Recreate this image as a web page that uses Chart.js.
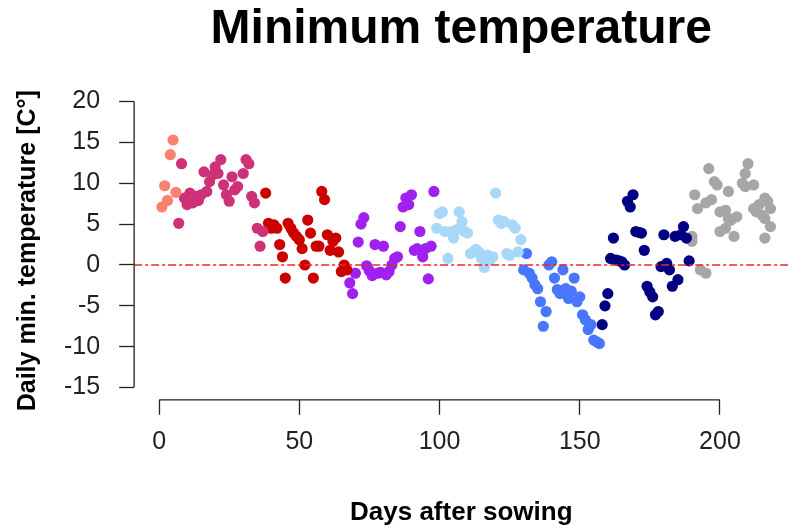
<!DOCTYPE html>
<html>
<head>
<meta charset="utf-8">
<script src="https://cdn.jsdelivr.net/npm/chart.js@4.4.1/dist/chart.umd.min.js"></script>
<style>
  html, body { margin: 0; padding: 0; background: #fff; }
  .chartBox { width: 794px; height: 528px; }
</style>
</head>
<body>
<div class="chartBox"><canvas id="tempChart"></canvas></div>
<script>
// tick labels
const xTicks = [0, 50, 100, 150, 200];
const yTicks = [-15, -10, -5, 0, 5, 10, 15, 20];

// one colour per month after sowing
const salmonDays = [1, 2, 3, 4, 5, 6];
const salmonTemp = [7.1, 9.7, 7.9, 13.5, 15.3, 8.9];

const violetDays = [7, 8, 9, 10, 11, 12, 13, 14, 15, 16, 17, 18, 19, 20, 21, 22, 23, 24, 25, 26, 27, 28, 30, 31, 32, 33, 34, 35, 36, 37];
const violetTemp = [5.1, 12.4, 8.2, 7.4, 8.8, 7.6, 8.4, 7.9, 8.6, 11.4, 9.0, 10.2, 11.0, 12.0, 11.2, 12.9, 9.8, 8.6, 7.8, 10.8, 9.2, 9.6, 11.2, 12.9, 12.4, 8.4, 7.6, 4.5, 2.3, 4.1];

const redDays = [38, 39, 40, 41, 42, 43, 44, 45, 46, 47, 48, 49, 50, 51, 52, 53, 54, 55, 56, 57, 58, 59, 60, 61, 62, 63, 64, 65, 66, 67];
const redTemp = [8.8, 5.1, 4.5, 4.9, 4.5, 2.5, 1.0, -1.6, 5.1, 4.5, 3.9, 3.5, 3.1, 2.0, 0.0, 5.5, 3.9, -1.6, 2.3, 2.3, 9.0, 8.0, 3.7, 1.8, 2.9, 3.3, 1.6, -0.8, 0.0, -0.6];

const purpleDays = [68, 69, 70, 71, 72, 73, 74, 75, 76, 77, 78, 79, 80, 81, 82, 83, 84, 85, 86, 87, 88, 89, 90, 91, 92, 93, 94, 95, 96, 97, 98];
const purpleTemp = [-2.2, -3.5, -1.0, 2.8, 5.0, 5.8, -0.1, -0.7, -1.3, 2.5, -1.0, -0.9, 2.3, -1.2, -0.8, 0.0, 0.8, 1.0, 4.7, 7.1, 8.2, 7.4, 8.6, 1.8, 2.0, 4.1, 1.0, 2.0, -1.7, 2.3, 9.0];

const skyDays = [99, 100, 101, 102, 103, 104, 105, 106, 107, 108, 109, 110, 111, 112, 113, 114, 115, 116, 117, 118, 119, 120, 121, 122, 123, 124, 125, 126, 127, 128, 129];
const skyTemp = [4.5, 6.3, 6.5, 4.1, 0.8, 4.1, 3.3, 4.3, 6.5, 5.3, 4.1, 3.9, 1.4, 1.6, 1.9, 1.6, 0.8, -0.3, 1.2, 0.6, 1.0, 8.8, 5.5, 5.1, 5.3, 1.4, 1.2, 4.9, 4.5, 1.6, 3.1];

const blueDays = [130, 131, 132, 133, 134, 135, 136, 137, 138, 139, 140, 141, 142, 143, 144, 145, 146, 147, 148, 149, 150, 151, 152, 153, 154, 155, 156, 157];
const blueTemp = [-0.6, 1.4, -1.0, -1.6, -2.4, -2.9, -4.5, -7.5, -5.7, 0.0, 0.4, -1.6, -3.0, -3.5, -0.6, -2.9, -4.1, -3.2, -1.6, -4.5, -3.9, -6.1, -6.7, -7.9, -7.3, -9.2, -9.4, -9.6];

const navyDays = [158, 159, 160, 161, 162, 163, 164, 165, 166, 167, 168, 169, 170, 171, 172, 173, 174, 175, 176, 177, 178, 179, 180, 181, 182, 183, 184, 185, 186, 187, 188, 189];
const navyTemp = [-7.3, -5.0, -3.5, 0.8, 3.3, 0.6, 0.5, 0.4, 0.0, 7.8, 7.1, 8.6, 4.1, 4.0, 3.9, 1.8, -2.6, -3.3, -3.9, -6.1, -5.7, -0.2, 3.7, 0.2, -0.6, -2.6, 3.5, -1.8, 3.7, 4.7, 3.3, 0.5];

const grayDays = [190, 190, 191, 192, 193, 195, 195, 196, 197, 198, 199, 200, 200, 202, 202, 203, 203, 204, 205, 206, 208, 209, 209, 210, 212, 212, 213, 214, 215, 216, 216, 216, 217, 218, 218];
const grayTemp = [3.5, 2.9, 8.6, 6.9, -0.6, 7.6, -1.0, 11.8, 8.0, 10.2, 9.8, 6.5, 4.1, 4.5, 6.7, 5.7, 9.0, 5.5, 3.5, 5.9, 10.0, 9.6, 11.2, 12.4, 9.8, 6.9, 6.5, 7.4, 6.1, 8.2, 3.3, 5.7, 7.8, 4.7, 6.9];

const xMin = -8.9;
const xMax = 224.4;

const groups = [
  [salmonDays, salmonTemp, "#FA8072"],
  [violetDays, violetTemp, "#CD3278"],
  [redDays, redTemp, "#CD0000"],
  [purpleDays, purpleTemp, "#A020F0"],
  [skyDays, skyTemp, "#A8D8F8"],
  [blueDays, blueTemp, "#4876FF"],
  [navyDays, navyTemp, "#000080"],
  [grayDays, grayTemp, "#A6A6A6"],
];

const fontFamily = "'Liberation Sans', Arial, sans-serif";

const toPoints = (days, temps) => days.map((d, i) => ({ x: d, y: temps[i] }));

const datasets = groups.map(([days, temps, color]) => ({
  type: "scatter",
  data: toPoints(days, temps),
  backgroundColor: color,
  borderColor: color,
  borderWidth: 0,
  pointRadius: 5.6,
  pointHoverRadius: 5.6,
  order: 1,
}));

// dot-dash zero line, drawn over the points
datasets.push({
  type: "line",
  data: [{ x: xMin, y: 0 }, { x: xMax, y: 0 }],
  borderColor: "rgb(232, 40, 40)",
  borderWidth: 1.6,
  borderDash: [8, 3, 3, 3],
  pointRadius: 0,
  order: 0,
});

// R style axes: the line only runs from first to last tick
const rAxes = {
  id: "rAxes",
  afterDraw(chart) {
    const { ctx, chartArea, scales } = chart;
    ctx.save();
    ctx.strokeStyle = "#222";
    ctx.lineWidth = 1.3;
    ctx.beginPath();
    ctx.moveTo(scales.x.getPixelForValue(xTicks[0]), chartArea.bottom);
    ctx.lineTo(scales.x.getPixelForValue(xTicks[xTicks.length - 1]), chartArea.bottom);
    ctx.moveTo(chartArea.left, scales.y.getPixelForValue(yTicks[0]));
    ctx.lineTo(chartArea.left, scales.y.getPixelForValue(yTicks[yTicks.length - 1]));
    ctx.stroke();
    ctx.restore();
  },
};

const tickGrid = {
  drawOnChartArea: false,
  drawTicks: true,
  tickLength: 15,
  tickColor: "#222",
  tickWidth: 1.3,
};

new Chart(document.getElementById("tempChart"), {
  type: "scatter",
  data: { datasets },
  options: {
    responsive: true,
    maintainAspectRatio: false,
    animation: false,
    layout: { padding: { left: 0, right: 0, top: 0, bottom: 0 } },
    plugins: {
      legend: { display: false },
      tooltip: { enabled: false },
      title: {
        display: true,
        fullSize: false,
        text: "Minimum temperature",
        color: "#000",
        font: { family: fontFamily, size: 48, weight: "bold", lineHeight: 1.2 },
        padding: { top: 1, bottom: 43 },
      },
    },
    scales: {
      x: {
        type: "linear",
        min: xMin,
        max: xMax,
        afterBuildTicks: (scale) => {
          scale.ticks = xTicks.map((v) => ({ value: v }));
        },
        ticks: {
          color: "#222",
          padding: 12,
          maxRotation: 0,
          font: { family: fontFamily, size: 25, lineHeight: 1.2 },
        },
        grid: tickGrid,
        border: { display: false },
        title: {
          display: true,
          text: "Days after sowing",
          color: "#000",
          font: { family: fontFamily, size: 26, weight: "bold", lineHeight: 1.2 },
          padding: { top: 28, bottom: 0 },
        },
      },
      y: {
        min: -16.5,
        max: 20,
        afterBuildTicks: (scale) => {
          scale.ticks = yTicks.map((v) => ({ value: v }));
        },
        ticks: {
          color: "#222",
          padding: 19,
          font: { family: fontFamily, size: 25, lineHeight: 1.2 },
        },
        grid: tickGrid,
        border: { display: false },
        title: {
          display: true,
          text: "Daily min. temperature [C°]",
          color: "#000",
          font: { family: fontFamily, size: 25, weight: "bold", lineHeight: 1.2 },
          padding: { top: 13, bottom: 2 },
        },
      },
    },
  },
  plugins: [rAxes],
});
</script>
</body>
</html>
